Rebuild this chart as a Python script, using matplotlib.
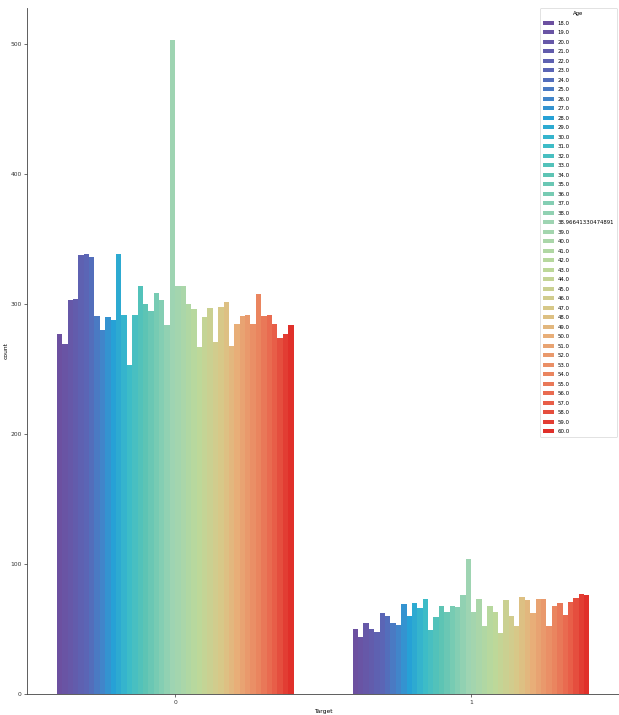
import matplotlib
matplotlib.use("Agg")
import matplotlib.pyplot as plt
from matplotlib.colors import LinearSegmentedColormap
import numpy as np

ages = [18.0, 19.0, 20.0, 21.0, 22.0, 23.0, 24.0, 25.0, 26.0, 27.0, 28.0, 29.0,
        30.0, 31.0, 32.0, 33.0, 34.0, 35.0, 36.0, 37.0, 38.0, 38.96641330474891,
        39.0, 40.0, 41.0, 42.0, 43.0, 44.0, 45.0, 46.0, 47.0, 48.0, 49.0, 50.0,
        51.0, 52.0, 53.0, 54.0, 55.0, 56.0, 57.0, 58.0, 59.0, 60.0]
targets = ["0", "1"]
counts_target0 = [277, 269, 303, 304, 338, 339, 336, 291, 280, 290, 288, 339,
                  292, 253, 292, 314, 300, 295, 309, 303, 284, 503,
                  314, 314, 300, 296, 267, 290, 297, 271, 298, 302, 268, 285,
                  291, 292, 285, 308, 291, 292, 285, 274, 277, 284]
counts_target1 = [50, 44, 55, 50, 48, 62, 60, 55, 53, 69, 60, 70,
                  66, 73, 49, 59, 68, 63, 68, 67, 76, 104,
                  63, 73, 52, 68, 63, 47, 72, 60, 52, 75, 72, 62,
                  73, 73, 52, 68, 70, 61, 71, 74, 77, 76]

# palette anchor colours (position along the hue order, colour)
palette_anchors = [(0.00, "#6c50a0"), (0.12, "#5a66b6"), (0.19, "#3f88cc"),
                   (0.233, "#25a2d6"), (0.30, "#3cbcc8"), (0.37, "#5cc4b4"),
                   (0.49, "#9ed4b2"), (0.60, "#bcd99a"), (0.70, "#d8c888"),
                   (0.77, "#e8ad78"), (0.86, "#ea8660"), (0.93, "#e8604a"),
                   (1.00, "#e0302a")]

n = len(ages)
cmap = LinearSegmentedColormap.from_list("age_pal", palette_anchors)
colors = [cmap(j / (n - 1)) for j in range(n)]

fig = plt.figure(figsize=(6.19, 7.15), dpi=100)
ax = fig.add_axes([0.044, 0.0294, 0.956, 0.9594])

group_w = 0.8
bw = group_w / n
data = [counts_target0, counts_target1]
for j in range(n):
    xs = [i - group_w / 2 + bw * (j + 0.5) for i in range(len(targets))]
    hs = [data[i][j] for i in range(len(targets))]
    ax.bar(xs, hs, width=bw, color=colors[j], label=str(ages[j]), linewidth=0)

ax.set_xlim(-0.5, 1.5)
ax.set_ylim(0, 528)
ax.set_xticks(range(len(targets)))
ax.set_xticklabels(targets)
ax.set_yticks([0, 100, 200, 300, 400, 500])
ax.tick_params(labelsize=4.3, length=2, width=0.5, pad=2, colors="#333333")
ax.set_xlabel("Target", fontsize=4.3, labelpad=3)
ax.set_ylabel("count", fontsize=4.3)
ax.yaxis.set_label_coords(-0.032, 0.5)
for s in ["top", "right"]:
    ax.spines[s].set_visible(False)
for s in ["left", "bottom"]:
    ax.spines[s].set_linewidth(0.6)
    ax.spines[s].set_color("#444444")

leg = ax.legend(title="Age", fontsize=3.9, title_fontsize=3.9, loc="upper right",
                bbox_to_anchor=(0.997, 1.0), borderaxespad=0.0, frameon=True,
                handlelength=2.0, handleheight=0.7, handletextpad=0.7,
                borderpad=0.6, labelspacing=0.83)
leg.get_frame().set_linewidth(0.5)

fig.savefig("out.png", dpi=100)
